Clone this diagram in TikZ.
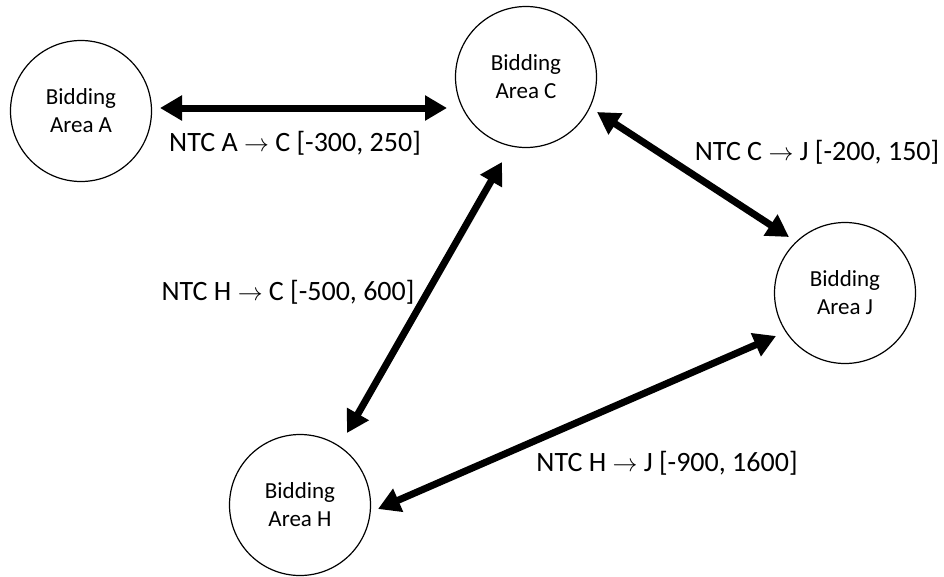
\documentclass[tikz,border=0pt]{standalone}
\usepackage{fontspec}
\setmainfont{Carlito}
\usetikzlibrary{arrows.meta}
\tikzset{
  area/.style={draw=black, line width=1.2pt, circle, minimum size=141pt, inner sep=0pt,
    align=center, font=\fontsize{23}{28}\selectfont},
  link/.style={line width=7pt, {Triangle[length=22pt,width=24pt]}-{Triangle[length=22pt,width=24pt]}},
  lbl/.style={font=\fontsize{28}{32}\selectfont, inner sep=0pt}
}
\newcommand{\arr}{\ensuremath{\rightarrow}}
\begin{document}
\begin{tikzpicture}[x=1pt,y=-1pt]
\useasboundingbox (0,0) rectangle (944,576);
\node[area] (A) at (81,111) {Bidding\\Area A};
\node[area] (C) at (526,77) {Bidding\\Area C};
\node[area] (J) at (845,293) {Bidding\\Area J};
\node[area] (H) at (300,505) {Bidding\\Area H};
\coordinate (ac1) at (160,108);
\coordinate (ac2) at (447,108);
\coordinate (cj1) at (597,112);
\coordinate (cj2) at (789,237);
\coordinate (hc1) at (502,162);
\coordinate (hc2) at (347,433);
\coordinate (hj1) at (378,509);
\coordinate (hj2) at (776,336);
\draw[link] (ac1) -- (ac2);
\draw[link] (cj1) -- (cj2);
\draw[link] (hc2) -- (hc1);
\draw[link] (hj1) -- (hj2);
\node[lbl] (lac) at (295,143) {NTC A \arr{} C [-300, 250]};
\node[lbl] (lcj) at (817,152) {NTC C \arr{} J [-200, 150]};
\node[lbl] (lhc) at (288,292) {NTC H \arr{} C [-500, 600]};
\node[lbl] (lhj) at (667,463) {NTC H \arr{} J [-900, 1600]};
\end{tikzpicture}
\end{document}
